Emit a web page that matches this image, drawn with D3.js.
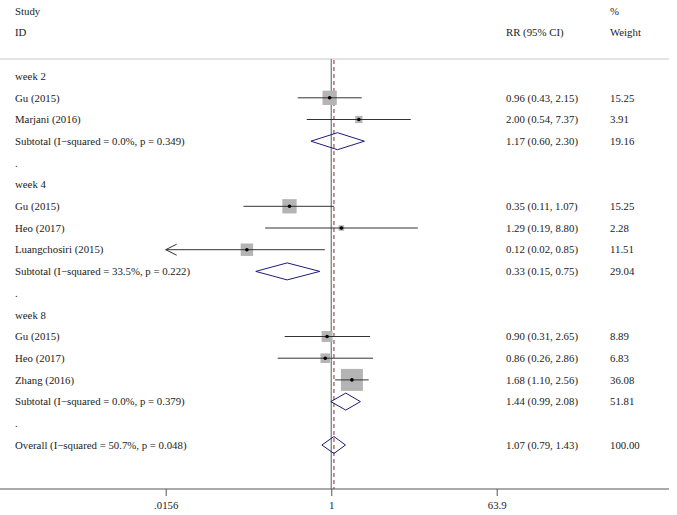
<!DOCTYPE html>
<html lang="en">
<head>
<meta charset="UTF-8">
<title>Forest plot</title>
<style>
    body { margin: 0; background: #fff; }
    svg text { font-family: 'Liberation Serif', 'DejaVu Serif', serif; font-size: 10.8px; fill: #222; }
</style>
</head>
<body>
<div id="chart"></div>
<script src="https://d3js.org/d3.v7.min.js"></script>
<script>
    // rows of the plot, top to bottom (header rows first)
    const rowLabels = [
        "Study", "ID", "",
        "week 2", "Gu (2015)", "Marjani (2016)", "Subtotal (I\u2212squared = 0.0%, p = 0.349)", ".",
        "week 4", "Gu (2015)", "Heo (2017)", "Luangchosiri (2015)", "Subtotal (I\u2212squared = 33.5%, p = 0.222)", ".",
        "week 8", "Gu (2015)", "Heo (2017)", "Zhang (2016)", "Subtotal (I\u2212squared = 0.0%, p = 0.379)", ".",
        "Overall (I\u2212squared = 50.7%, p = 0.048)"
    ];
    // kind: h = header, g = group title, s = study, d = diamond (pooled), b = blank
    const rowKinds = ["h","h","b","g","s","s","d","b","g","s","s","s","d","b","g","s","s","s","d","b","d"];
    const rrValues = [null,null,null,null,0.96,2.00,1.17,null,null,0.35,1.29,0.12,0.33,null,null,0.90,0.86,1.68,1.44,null,1.07];
    const ciLower  = [null,null,null,null,0.43,0.54,0.60,null,null,0.11,0.19,0.0152,0.15,null,null,0.31,0.26,1.10,0.99,null,0.79];
    const ciUpper  = [null,null,null,null,2.15,7.37,2.30,null,null,1.07,8.80,0.85,0.75,null,null,2.65,2.86,2.56,2.08,null,1.43];
    const weights  = [null,null,null,null,15.25,3.91,19.16,null,null,15.25,2.28,11.51,29.04,null,null,8.89,6.83,36.08,51.81,null,100.00];
    const tickValues = [0.0156, 1, 63.9];
    const tickLabels = [".0156", "1", "63.9"];

    const width = 677, height = 515;
    const svg = d3.select("#chart").append("svg")
        .attr("width", width).attr("height", height);
    svg.append("rect").attr("width", width).attr("height", height).attr("fill", "#fff");

    const y = d3.scaleLinear().domain([0, rowLabels.length - 1]).range([11, 445]);
    const x = d3.scaleLog().domain([0.0156, 63.9]).range([165.7, 496.7]);
    const size = d3.scaleSqrt().domain([0, 100]).range([0, 36.6]);

    const rows = rowLabels.map((label, i) => ({
        i, label, kind: rowKinds[i], rr: rrValues[i], lo: ciLower[i], hi: ciUpper[i], w: weights[i]
    }));

    const plotTop = 59, axisY = 489;

    // top rule
    svg.append("line").attr("x1", 0).attr("x2", 669).attr("y1", plotTop).attr("y2", plotTop)
        .attr("stroke", "#c8c8c8").attr("stroke-width", 1);

    // left column labels
    svg.selectAll(".lbl").data(rows).join("text")
        .attr("class", "lbl")
        .attr("x", 15).attr("y", d => y(d.i)).attr("dy", "0.35em")
        .text(d => d.label);

    // header texts
    svg.append("text").attr("x", 506).attr("y", y(1)).attr("dy", "0.35em").text("RR (95% CI)");
    svg.append("text").attr("x", 610).attr("y", y(0)).attr("dy", "0.35em").text("%");
    svg.append("text").attr("x", 610).attr("y", y(1)).attr("dy", "0.35em").text("Weight");

    const est = rows.filter(d => d.rr !== null);

    svg.selectAll(".ci-txt").data(est).join("text")
        .attr("class", "ci-txt")
        .attr("x", 506).attr("y", d => y(d.i)).attr("dy", "0.35em")
        .text(d => `${d.rr.toFixed(2)} (${d.lo.toFixed(2)}, ${d.hi.toFixed(2)})`);
    svg.selectAll(".w-txt").data(est).join("text")
        .attr("class", "w-txt")
        .attr("x", 610).attr("y", d => y(d.i)).attr("dy", "0.35em")
        .text(d => d.w.toFixed(2));

    // null line and overall line
    svg.append("line").attr("x1", x(1)).attr("x2", x(1)).attr("y1", plotTop).attr("y2", axisY)
        .attr("stroke", "#777").attr("stroke-width", 1.2);
    const overall = rows[rows.length - 1];
    svg.append("line").attr("x1", x(overall.rr)).attr("x2", x(overall.rr)).attr("y1", plotTop + 1).attr("y2", axisY)
        .attr("stroke", "#8b2a3a").attr("stroke-width", 1).attr("stroke-dasharray", "4,3");

    const studies = est.filter(d => d.kind === "s");
    const [dMin, dMax] = x.domain();

    // boxes
    svg.selectAll(".box").data(studies).join("rect")
        .attr("class", "box")
        .attr("x", d => x(d.rr) - size(d.w) / 2)
        .attr("y", d => y(d.i) - size(d.w) / 2)
        .attr("width", d => size(d.w)).attr("height", d => size(d.w))
        .attr("fill", "#b4b4b4");

    // CI lines
    svg.selectAll(".ci").data(studies).join("line")
        .attr("class", "ci")
        .attr("x1", d => x(Math.max(d.lo, dMin))).attr("x2", d => x(Math.min(d.hi, dMax)))
        .attr("y1", d => y(d.i)).attr("y2", d => y(d.i))
        .attr("stroke", "#333").attr("stroke-width", 1);

    // arrows for truncated CIs
    svg.selectAll(".arrow").data(studies.filter(d => d.lo < dMin)).join("path")
        .attr("class", "arrow")
        .attr("d", d => {
            const x0 = x(dMin), yy = y(d.i);
            return `M${x0 + 11},${yy - 5.5}L${x0},${yy}L${x0 + 11},${yy + 5.5}`;
        })
        .attr("fill", "none").attr("stroke", "#333").attr("stroke-width", 1);

    // point estimates
    svg.selectAll(".pt").data(studies).join("circle")
        .attr("class", "pt")
        .attr("cx", d => x(d.rr)).attr("cy", d => y(d.i)).attr("r", 1.8)
        .attr("fill", "#000");

    // pooled diamonds
    svg.selectAll(".diamond").data(est.filter(d => d.kind === "d")).join("path")
        .attr("class", "diamond")
        .attr("d", d => {
            const yy = y(d.i), h = 8.5;
            return `M${x(d.lo)},${yy}L${x(d.rr)},${yy - h}L${x(d.hi)},${yy}L${x(d.rr)},${yy + h}Z`;
        })
        .attr("fill", "none").attr("stroke", "#1c1c7a").attr("stroke-width", 1);

    // x axis
    svg.append("line").attr("x1", 0).attr("x2", 669).attr("y1", axisY).attr("y2", axisY)
        .attr("stroke", "#555").attr("stroke-width", 1);
    const axis = svg.append("g").attr("transform", `translate(0,${axisY})`)
        .call(d3.axisBottom(x).tickValues(tickValues).tickFormat((d, i) => tickLabels[i]).tickSize(7).tickPadding(5));
    axis.select(".domain").remove();
    axis.selectAll("line").attr("stroke", "#555");
    axis.selectAll("text").attr("font-family", "'Liberation Serif', serif").attr("font-size", 10.8).attr("fill", "#222");
</script>
</body>
</html>
